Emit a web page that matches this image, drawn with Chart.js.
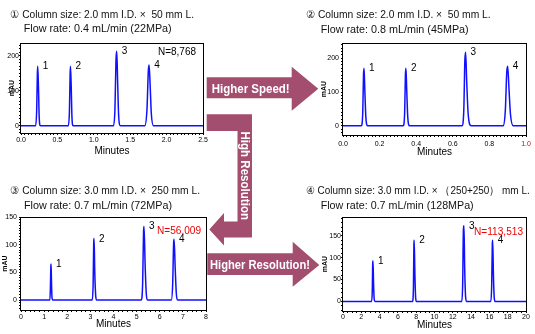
<!DOCTYPE html>
<html>
<head>
<meta charset="utf-8">
<script src="https://cdn.jsdelivr.net/npm/chart.js@4.4.1/dist/chart.umd.min.js"></script>
<style>
  html, body { margin: 0; padding: 0; background: #fff; }
  #stage { position: relative; width: 535px; height: 334px; overflow: hidden; background: #fff; }
  #stage canvas { position: absolute; }
  #notes { position: absolute; left: 0; top: 0; pointer-events: none; }
  #notes text { white-space: pre; }
</style>
</head>
<body>
<div id="stage">
  <canvas id="c1" width="216" height="122" style="left:0px;top:36px"></canvas>
  <canvas id="c2" width="217" height="122" style="left:318px;top:36px"></canvas>
  <canvas id="c3" width="215" height="126" style="left:0px;top:208px"></canvas>
  <canvas id="c4" width="217" height="126" style="left:318px;top:208px"></canvas>

  <svg id="notes" width="535" height="334" xmlns="http://www.w3.org/2000/svg">
    <g font-family="'Liberation Sans', Arial, sans-serif" font-size="11" fill="#111">
      <text x="10" y="18.3" textLength="184" lengthAdjust="spacingAndGlyphs">① Column size: 2.0 mm I.D. ×  50 mm L.</text>
      <text x="23.7" y="32.3" textLength="148" lengthAdjust="spacingAndGlyphs">Flow rate: 0.4 mL/min (22MPa)</text>
      <text x="305.7" y="18.3" textLength="185" lengthAdjust="spacingAndGlyphs">② Column size: 2.0 mm I.D. ×  50 mm L.</text>
      <text x="320.7" y="32.5" textLength="148" lengthAdjust="spacingAndGlyphs">Flow rate: 0.8 mL/min (45MPa)</text>
      <text x="10" y="194.3" textLength="190" lengthAdjust="spacingAndGlyphs">③ Column size: 3.0 mm I.D. ×  250 mm L.</text>
      <text x="24" y="208.5" textLength="148" lengthAdjust="spacingAndGlyphs">Flow rate: 0.7 mL/min (72MPa)</text>
      <text x="305.7" y="194" textLength="224" lengthAdjust="spacingAndGlyphs">④ Column size: 3.0 mm I.D. × （250+250） mm L.</text>
      <text x="320.7" y="208.5" textLength="153" lengthAdjust="spacingAndGlyphs">Flow rate: 0.7 mL/min (128MPa)</text>
    </g>
    <g font-family="'Liberation Sans', Arial, sans-serif" font-size="10">
      <text x="158" y="55" fill="#000" textLength="38" lengthAdjust="spacingAndGlyphs">N=8,768</text>
      <text x="157" y="234" fill="#ee0000" textLength="44" lengthAdjust="spacingAndGlyphs">N=56,009</text>
      <text x="474" y="235" fill="#ee0000" textLength="49" lengthAdjust="spacingAndGlyphs">N=113,513</text>
    </g>
    <g fill="#a34e6e">
      <path d="M206.7,77.3 H291.7 V66.7 L318.3,88.7 L291.7,110.7 V98.3 H206.7 Z"/>
      <path d="M206.7,114.3 H252 V237.5 H224 V245.5 L209.3,229.5 L224,213 V221.5 H237.5 V131 H206.7 Z"/>
      <path d="M207.3,253.3 H292.7 V241.7 L319.3,265 L292.7,286.7 V275 H207.3 Z"/>
    </g>
    <g font-family="'Liberation Sans', Arial, sans-serif" font-size="12" font-weight="bold" fill="#fff">
      <text x="211.7" y="92.5" textLength="78" lengthAdjust="spacingAndGlyphs">Higher Speed!</text>
      <text transform="translate(240.5,131.5) rotate(90)" x="0" y="0" textLength="88.5" lengthAdjust="spacingAndGlyphs">High Resolution</text>
      <text x="210" y="268.5" textLength="100" lengthAdjust="spacingAndGlyphs">Higher Resolution!</text>
    </g>
  </svg>
</div>

<script>
// ① 2.0 x 50 mm, 0.4 mL/min
const time1 = [0, 0.2, 0.215, 0.225, 0.23, 0.24, 0.25, 0.265, 0.65, 0.665, 0.675, 0.68, 0.69, 0.70, 0.715, 1.27, 1.29, 1.305, 1.315, 1.327, 1.34, 1.365, 1.70, 1.73, 1.75, 1.76, 1.775, 1.79, 1.82, 2.5];
const abs1  = [0, 0, 40, 150, 170, 110, 25, 0, 0, 40, 150, 170, 110, 25, 0, 0, 45, 190, 213, 130, 35, 0, 0, 45, 160, 174, 110, 35, 0, 0];
const peakT1 = [0.23, 0.68, 1.315, 1.76];
const peakH1 = [170, 170, 213, 174];

// ② 2.0 x 50 mm, 0.8 mL/min
const time2 = [0, 0.1, 0.108, 0.112, 0.115, 0.119, 0.125, 0.135, 0.329, 0.337, 0.341, 0.344, 0.348, 0.354, 0.364, 0.65, 0.66, 0.666, 0.67, 0.676, 0.684, 0.70, 0.875, 0.887, 0.895, 0.90, 0.907, 0.915, 0.93, 1.0];
const abs2  = [0, 0, 40, 150, 170, 110, 25, 0, 0, 40, 150, 170, 110, 25, 0, 0, 45, 195, 218, 130, 35, 0, 0, 45, 160, 176, 110, 35, 0, 0];
const peakT2 = [0.115, 0.344, 0.67, 0.90];
const peakH2 = [170, 170, 218, 176];

// ③ 3.0 x 250 mm, 0.7 mL/min
const time3 = [0, 1.25, 1.27, 1.29, 1.30, 1.32, 1.34, 1.37, 3.08, 3.12, 3.145, 3.16, 3.19, 3.23, 3.27, 5.2, 5.26, 5.3, 5.32, 5.37, 5.42, 5.47, 6.5, 6.56, 6.6, 6.62, 6.67, 6.72, 6.77, 8];
const abs3  = [0, 0, 20, 60, 65, 30, 5, 0, 0, 30, 105, 111, 50, 8, 0, 0, 30, 125, 133, 60, 10, 0, 0, 30, 103, 110, 55, 10, 0, 0];
const peakT3 = [1.30, 3.16, 5.32, 6.62];
const peakH3 = [65, 111, 133, 110];

// ④ 3.0 x (250+250) mm, 0.7 mL/min
const time4 = [0, 3.13, 3.2, 3.25, 3.28, 3.34, 3.41, 3.49, 7.6, 7.7, 7.75, 7.78, 7.86, 7.94, 8.03, 12.98, 13.08, 13.16, 13.22, 13.3, 13.4, 13.5, 16.15, 16.25, 16.32, 16.36, 16.44, 16.53, 16.63, 20];
const abs4  = [0, 0, 25, 88, 93, 40, 5, 0, 0, 35, 132, 140, 60, 8, 0, 0, 40, 165, 173, 75, 10, 0, 0, 35, 132, 140, 60, 8, 0, 0];
const peakT4 = [3.28, 7.78, 13.22, 16.36];
const peakH4 = [93, 140, 173, 140];

const peakNames = ['1', '2', '3', '4'];

const FONT = "'Liberation Sans', Arial, sans-serif";

// closed black frame around the plot area
const framePlugin = {
  id: 'frame',
  afterDraw(chart) {
    const { ctx, chartArea: a } = chart;
    ctx.save();
    ctx.strokeStyle = '#000';
    ctx.lineWidth = 1;
    ctx.strokeRect(Math.round(a.left) - 0.5, Math.round(a.top) + 0.5,
                   Math.round(a.right - a.left) + 1, Math.round(a.bottom - a.top));
    ctx.restore();
  }
};

// peak numbers next to each apex
const peakLabelPlugin = {
  id: 'peakLabels',
  afterDatasetsDraw(chart, args, opts) {
    if (!opts || !opts.times) return;
    const { ctx, scales: { x, y } } = chart;
    ctx.save();
    ctx.font = '10px ' + FONT;
    ctx.fillStyle = '#000';
    ctx.textBaseline = 'alphabetic';
    opts.times.forEach((t, i) => {
      ctx.fillText(opts.names[i], x.getPixelForValue(t) + 5, y.getPixelForValue(opts.heights[i]) + 3);
    });
    ctx.restore();
  }
};

function isMajor(v, step) {
  const r = v / step;
  return Math.abs(r - Math.round(r)) < 1e-6;
}

function buildChart(id, s) {
  return new Chart(document.getElementById(id), {
    type: 'line',
    data: {
      datasets: [{
        data: s.time.map((t, i) => ({ x: t, y: s.abs[i] })),
        borderColor: '#1010ff',
        borderWidth: 1.5,
        pointRadius: 0,
        cubicInterpolationMode: 'monotone',
        fill: false
      }]
    },
    options: {
      responsive: false,
      animation: false,
      events: [],
      devicePixelRatio: 1,
      layout: { padding: s.pad },
      plugins: {
        legend: { display: false },
        tooltip: { enabled: false },
        peakLabels: { times: s.peakT, heights: s.peakH, names: peakNames }
      },
      scales: {
        x: {
          type: 'linear',
          min: s.xMin, max: s.xMax,
          border: { display: false },
          grid: { drawOnChartArea: false, drawTicks: true, tickLength: 2, tickColor: '#000', color: '#000' },
          ticks: {
            stepSize: s.xStep,
            autoSkip: false,
            maxRotation: 0, minRotation: 0,
            includeBounds: false,
            padding: s.xTickPad,
            font: { family: FONT, size: 7 },
            color: (c) => (s.redTick !== undefined && c.tick && Math.abs(c.tick.value - s.redTick) < 1e-9) ? '#e00000' : '#000',
            callback: (v) => isMajor(v, s.xMajor) ? v.toFixed(s.xDec) : ''
          },
          title: { display: true, text: 'Minutes', color: '#000', font: { family: FONT, size: 10 }, padding: { top: 0, bottom: s.xTitlePad } },
          afterFit: (sc) => { sc.height = s.xHeight; }
        },
        y: {
          type: 'linear',
          min: s.yMin, max: s.yMax,
          border: { display: false },
          grid: { drawOnChartArea: false, drawTicks: true, tickLength: 2, tickColor: '#000', color: '#000' },
          ticks: {
            stepSize: s.yStep,
            autoSkip: false,
            includeBounds: false,
            padding: s.yTickPad,
            font: { family: FONT, size: 7 },
            color: '#000',
            callback: (v) => isMajor(v, s.yMajor) ? String(v) : ''
          },
          title: { display: true, text: 'mAU', color: '#000', font: { family: FONT, size: 7, weight: 'bold' }, padding: { top: s.yTitlePad, bottom: 0 } },
          afterFit: (sc) => { sc.width = s.yWidth; }
        }
      }
    },
    plugins: [framePlugin, peakLabelPlugin]
  });
}

buildChart('c1', {
  time: time1, abs: abs1, peakT: peakT1, peakH: peakH1,
  xMin: 0, xMax: 2.5, xStep: 0.05, xMajor: 0.5, xDec: 1,
  yMin: -21, yMax: 237, yStep: 10, yMajor: 100,
  pad: { left: 0, top: 7, right: 13, bottom: 0 },
  yWidth: 21, xHeight: 25, xTickPad: 1, yTickPad: 0, xTitlePad: 1, yTitlePad: 8
});

buildChart('c2', {
  time: time2, abs: abs2, peakT: peakT2, peakH: peakH2,
  xMin: 0, xMax: 1.0, xStep: 0.02, xMajor: 0.2, xDec: 1, redTick: 1.0,
  yMin: -27, yMax: 245, yStep: 10, yMajor: 100,
  pad: { left: 0, top: 7, right: 9, bottom: 0 },
  yWidth: 25, xHeight: 23, xTickPad: 3, yTickPad: 2, xTitlePad: 0, yTitlePad: 2
});

buildChart('c3', {
  time: time3, abs: abs3, peakT: peakT3, peakH: peakH3,
  xMin: 0, xMax: 8, xStep: 0.2, xMajor: 1, xDec: 0,
  yMin: -18, yMax: 150, yStep: 5, yMajor: 50,
  pad: { left: 0, top: 9, right: 9, bottom: 0 },
  yWidth: 21, xHeight: 24, xTickPad: 1, yTickPad: 2, xTitlePad: 3.5, yTitlePad: 1
});

buildChart('c4', {
  time: time4, abs: abs4, peakT: peakT4, peakH: peakH4,
  xMin: 0, xMax: 20, xStep: 0.5, xMajor: 2, xDec: 0,
  yMin: -22, yMax: 193, yStep: 10, yMajor: 50,
  pad: { left: 0, top: 9, right: 9, bottom: 0 },
  yWidth: 25, xHeight: 23, xTickPad: 0, yTickPad: 0, xTitlePad: 3, yTitlePad: 3
});
</script>
</body>
</html>
